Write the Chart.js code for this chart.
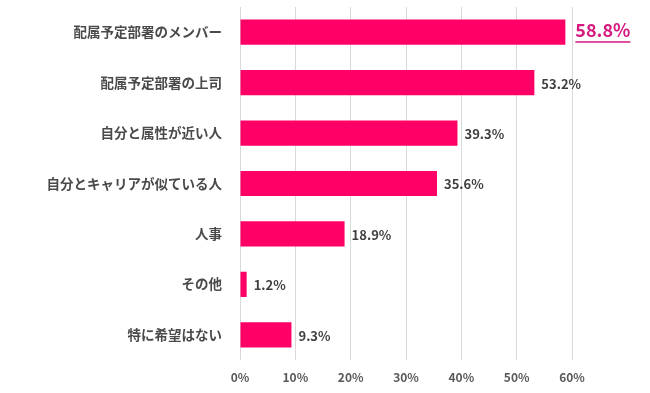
<!DOCTYPE html>
<html>
<head>
<meta charset="utf-8">
<script src="https://cdn.jsdelivr.net/npm/chart.js@4"></script>
<style>
  html, body { margin: 0; padding: 0; background: #fff; }
  #wrap { width: 650px; height: 393px; }
</style>
</head>
<body>
<div id="wrap"><canvas id="myChart" width="650" height="393"></canvas></div>
<script>
// categories and values
const categories = ['配属予定部署のメンバー', '配属予定部署の上司', '自分と属性が近い人', '自分とキャリアが似ている人', '人事', 'その他', '特に希望はない'];
const values = [58.8, 53.2, 39.3, 35.6, 18.9, 1.2, 9.3];
const xTicks = [0, 10, 20, 30, 40, 50, 60];

const FONT = "'Noto Sans CJK JP', 'Noto Sans', sans-serif";

// value labels at the end of each bar
const endLabels = {
  id: 'endLabels',
  afterDatasetsDraw(chart) {
    const ctx = chart.ctx;
    const meta = chart.getDatasetMeta(0);
    ctx.save();
    ctx.textBaseline = 'middle';
    ctx.textAlign = 'left';
    meta.data.forEach((bar, i) => {
      const txt = values[i].toFixed(1) + '%';
      const x = bar.x + 7;
      if (i === 0) {
        ctx.font = "bold 18px " + FONT;
        ctx.fillStyle = '#D6187F';
        ctx.fillText(txt, x + 3, bar.y - 2);
        const w = ctx.measureText(txt).width;
        ctx.fillRect(x + 3, bar.y + 9, w, 1.5);
      } else {
        ctx.font = "bold 13px " + FONT;
        ctx.fillStyle = '#404040';
        ctx.fillText(txt, x, bar.y + 1);
      }
    });
    ctx.restore();
  }
};

var ctx = document.getElementById('myChart').getContext('2d');
var chart = new Chart(ctx, {
  type: 'bar',
  data: {
    labels: categories,
    datasets: [{
      data: values,
      backgroundColor: '#FF0066',
      barPercentage: 0.5,
      categoryPercentage: 1.0
    }]
  },
  options: {
    indexAxis: 'y',
    responsive: false,
    animation: false,
    layout: { padding: { top: 7, right: 78, bottom: 8, left: 0 } },
    plugins: {
      legend: { display: false },
      tooltip: { enabled: false }
    },
    scales: {
      x: {
        min: 0,
        max: 60,
        afterBuildTicks: (scale) => { scale.ticks = xTicks.map(v => ({ value: v })); },
        afterFit: (scale) => { scale.height = 25; },
        grid: { color: '#D9D9D9', drawTicks: false },
        border: { display: false },
        ticks: {
          padding: 10,
          color: '#595959',
          font: { family: FONT, size: 12, weight: 'bold' },
          callback: (v) => v + '%'
        }
      },
      y: {
        grid: { display: false, drawTicks: false },
        border: { display: false },
        afterFit: (scale) => {
          scale.width = 240;
          scale.paddingTop = 0;
          scale.paddingBottom = 0;
        },
        ticks: {
          padding: 18,
          color: '#4A4A4A',
          font: { family: FONT, size: 13.5, weight: 'bold' }
        }
      }
    }
  },
  plugins: [endLabels]
});
</script>
</body>
</html>
